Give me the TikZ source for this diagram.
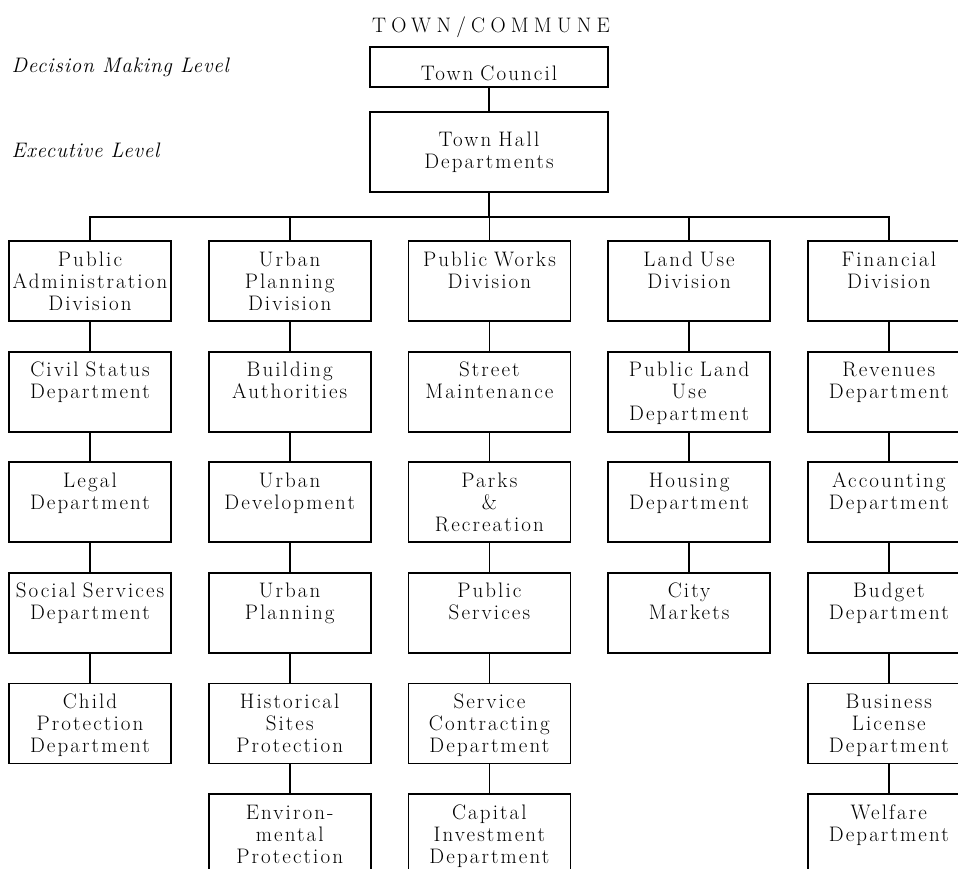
\documentclass[tikz,border=0pt]{standalone}
\usepackage{fontspec}
\setmainfont{Latin Modern Roman}[LetterSpace=10]
\usetikzlibrary{positioning}

\begin{document}
\begin{tikzpicture}[x=1pt, y=1pt, node distance=28.8pt, font=\fontsize{21}{22}\selectfont]
    \tikzstyle{unit} = [rectangle, draw=black, line width=1.8pt, text width=158pt, align=center, inner sep=2pt, minimum width=162pt, text height=23pt, text depth=53pt]
    \tikzstyle{top} = [unit, text width=234pt, minimum width=238pt]
    \tikzstyle{level} = [anchor=base west, font=\fontsize{21}{22}\selectfont\itshape\addfontfeature{LetterSpace=4}]
    \tikzstyle{link} = [draw, line width=1.6pt, black]
    \useasboundingbox (0,0) rectangle (958,-868);

    % top of the chart
    \node [anchor=base, font=\fontsize{21}{22}\selectfont\addfontfeature{LetterSpace=25}] (title) at (491,-32) {TOWN/COMMUNE};
    \node [top, text height=31pt, text depth=5pt] (council) at (489,-67) {Town Council};
    \node [top, text height=32pt, text depth=44pt, below=23.2pt of council] (hall) {Town Hall\\Departments};
    \coordinate [below=24pt of hall] (bus);

    \node [level] (decide) at (8,-72) {Decision Making Level};
    \node [level] (exec) at (8,-157) {Executive Level};

    % divisions
    \node [unit] (pad) at (90,-281) {Public\\Administration\\Division};
    \node [unit, right=35.9pt of pad] (upd) {Urban\\Planning\\Division};
    \node [unit, right=35.9pt of upd] (pwd) {Public Works\\Division};
    \node [unit, right=35.9pt of pwd] (lud) {Land Use\\Division};
    \node [unit, right=35.9pt of lud] (fin) {Financial\\Division};

    % public administration
    \node [unit, below=of pad] (civil) {Civil Status\\Department};
    \node [unit, below=of civil] (legal) {Legal\\Department};
    \node [unit, below=of legal] (social) {Social Services\\Department};
    \node [unit, below=of social] (child) {Child\\Protection\\Department};

    % urban planning
    \node [unit, below=of upd] (build) {Building\\Authorities};
    \node [unit, below=of build] (udev) {Urban\\Development};
    \node [unit, below=of udev] (uplan) {Urban\\Planning};
    \node [unit, below=of uplan] (hist) {Historical\\Sites\\Protection};
    \node [unit, below=of hist] (envir) {Environ-\\mental\\Protection};

    % public works
    \node [unit, below=of pwd] (street) {Street\\Maintenance};
    \node [unit, below=of street] (parks) {Parks\\\&\\Recreation};
    \node [unit, below=of parks] (pserv) {Public\\Services};
    \node [unit, below=of pserv] (contr) {Service\\Contracting\\Department};
    \node [unit, below=of contr] (capital) {Capital\\Investment\\Department};

    % land use
    \node [unit, below=of lud] (pland) {Public Land\\Use\\Department};
    \node [unit, below=of pland] (housing) {Housing\\Department};
    \node [unit, below=of housing] (markets) {City\\Markets};

    % financial
    \node [unit, below=of fin] (revenue) {Revenues\\Department};
    \node [unit, below=of revenue] (account) {Accounting\\Department};
    \node [unit, below=of account] (budget) {Budget\\Department};
    \node [unit, below=of budget] (license) {Business\\License\\Department};
    \node [unit, below=of license] (welfare) {Welfare\\Department};

    % connectors
    \draw [link] (council) -- (hall);
    \draw [link] (hall) -- (bus);
    \draw [link] (pad.north) |- (bus) -| (fin.north);
    \draw [link] (upd.north) -- (upd.north |- bus);
    \draw [link] (pwd.north) -- (pwd.north |- bus);
    \draw [link] (lud.north) -- (lud.north |- bus);

    \draw [link] (pad) -- (civil) -- (legal) -- (social) -- (child);
    \draw [link] (upd) -- (build) -- (udev) -- (uplan) -- (hist) -- (envir);
    \draw [link] (pwd) -- (street) -- (parks) -- (pserv) -- (contr) -- (capital);
    \draw [link] (lud) -- (pland) -- (housing) -- (markets);
    \draw [link] (fin) -- (revenue) -- (account) -- (budget) -- (license) -- (welfare);
\end{tikzpicture}
\end{document}
